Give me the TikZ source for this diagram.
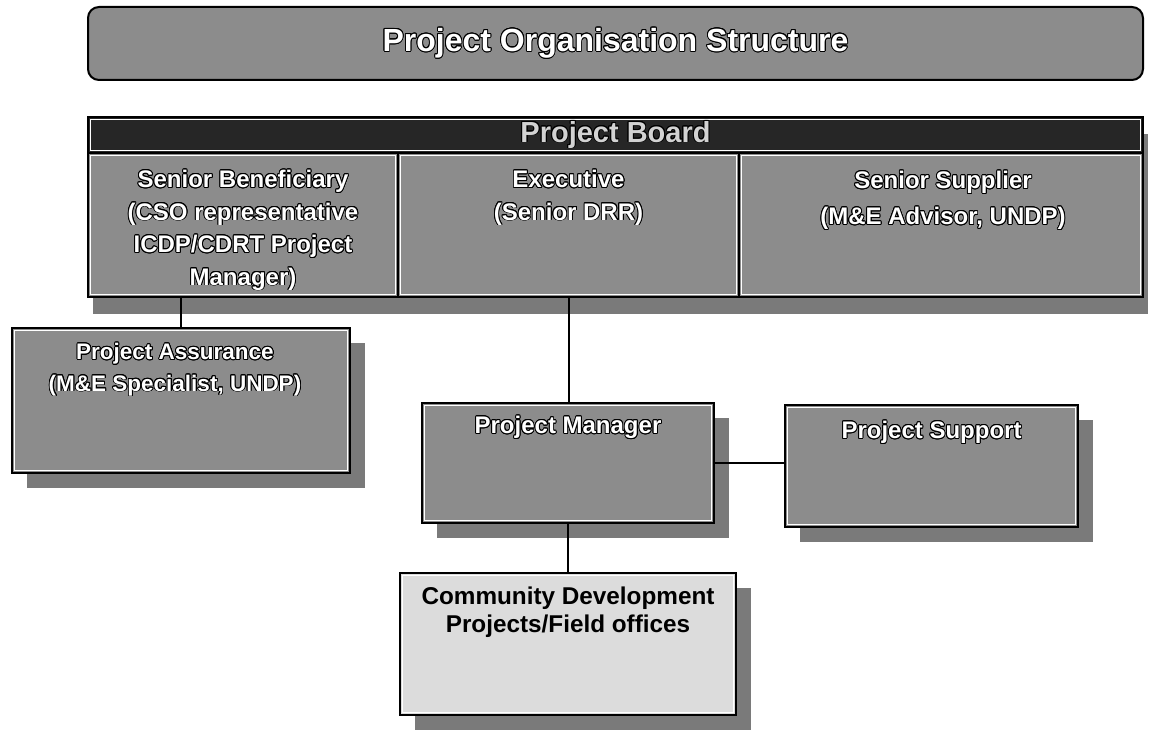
\documentclass[tikz,border=0pt]{standalone}
\usepackage{fontspec}
\setmainfont{Liberation Sans}
\usepackage{contour}
\contourlength{0.9pt}
\usetikzlibrary{shadows}
\definecolor{boxgrey}{HTML}{8C8C8C}
\definecolor{boardink}{HTML}{262626}
\definecolor{shade}{HTML}{7A7A7A}
\definecolor{fieldgrey}{HTML}{DCDCDC}
\definecolor{boardtext}{HTML}{D2D2D2}
\newcommand{\outl}[1]{\contour{black}{#1}}

\begin{document}
\begin{tikzpicture}[x=1pt,y=-1pt,line join=miter,
    unit/.style={draw=black,line width=2pt,fill=boxgrey,inner sep=0pt,
      path picture={\draw[white,line width=1.1pt]
        ([shift={(2.8pt,-2.8pt)}]path picture bounding box.north west) rectangle
        ([shift={(-2.8pt,2.8pt)}]path picture bounding box.south east);}},
    boxshadow/.style={drop shadow={shadow xshift=15pt,shadow yshift=-15pt,
      fill=shade,opacity=1}},
    label text/.style={anchor=north,inner sep=0pt,align=center,text=white,
      font=\bfseries\fontsize{24}{32.5}\selectfont},
    link/.style={draw=black,line width=2pt}]
  \useasboundingbox (0,0) rectangle (1154,733);

  % heading
  \node[draw=black,line width=2pt,fill=boxgrey,rounded corners=11pt,
    minimum width=1055pt,minimum height=73pt,
    text=white,font=\bfseries\fontsize{32}{36}\selectfont] (title)
    at (615.5,43.5) {\outl{Project Organisation Structure}};

  % project board
  \node[unit,minimum width=1055pt,minimum height=180pt,
    drop shadow={shadow xshift=5pt,shadow yshift=-17pt,fill=shade,opacity=1}]
    (board) at (615.5,207) {};
  \node[unit,fill=boardink,minimum width=1055pt,minimum height=36pt,
    text=boardtext,font=\bfseries\fontsize{29}{32}\selectfont] (head)
    at (615.5,135) {\outl{Project Board}};
  \node[unit,minimum width=310pt,minimum height=144pt] (sb) at (243,225) {};
  \node[unit,minimum width=341pt,minimum height=144pt] (ex) at (568.5,225) {};
  \node[unit,minimum width=404pt,minimum height=144pt] (ss) at (941,225) {};
  \node[label text] at (243,170)
    {\outl{Senior Beneficiary}\\\outl{(CSO representative}\\
     \outl{ICDP/CDRT Project}\\\outl{Manager)}};
  \node[label text] at (568.5,170) {\outl{Executive}\\\outl{(Senior DRR)}};
  \node[label text,font=\bfseries\fontsize{24}{36}\selectfont] at (943,171)
    {\outl{Senior Supplier}\\\outl{(M\&E Advisor, UNDP)}};

  % boxes below the board
  \node[unit,boxshadow,minimum width=338pt,minimum height=145pt] (pa)
    at (181,400.5) {};
  \node[label text,font=\bfseries\fontsize{22.5}{31.5}\selectfont] at (175,343)
    {\outl{Project Assurance}\\\outl{(M\&E Specialist, UNDP)}};

  \node[unit,boxshadow,minimum width=292pt,minimum height=120pt] (pm)
    at (568,463) {};
  \node[label text] at (568,416) {\outl{Project Manager}};

  \node[unit,boxshadow,minimum width=293pt,minimum height=122pt] (ps)
    at (931.5,466) {};
  \node[label text] at (931.5,421) {\outl{Project Support}};

  \node[unit,boxshadow,fill=fieldgrey,minimum width=336pt,minimum height=142pt]
    (cd) at (568,644) {};
  \node[label text,text=black,font=\bfseries\fontsize{24.3}{28}\selectfont]
    at (568,587) {Community Development\\Projects/Field offices};

  % connectors
  \draw[link] (sb.south -| pa.north) -- (pa.north);
  \draw[link] (ex.south) -- (ex.south |- pm.north);
  \draw[link] (pm.east) -- (pm.east -| ps.west);
  \draw[link] (pm.south) -- (cd.north);
\end{tikzpicture}
\end{document}
